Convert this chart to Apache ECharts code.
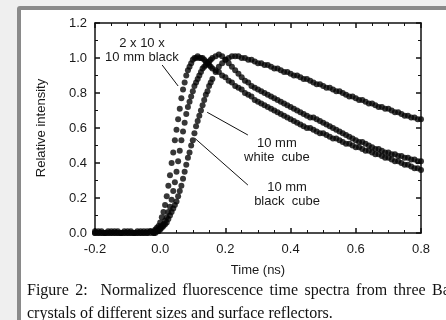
<!DOCTYPE html>
<html>

<head>
    <meta charset="utf-8">
    <script type="text/javascript" src="https://cdn.jsdelivr.net/npm/echarts@6.0.0/dist/echarts.min.js"></script>
    <title>Fluorescence time spectra</title>
    <style>
        body { margin: 0; width: 446px; height: 320px; overflow: hidden; background: #efefef; position: relative; }
        #frame { position: absolute; left: 17px; top: 6px; width: 480px; height: 360px; background: #fff;
                 border: 4px solid #8a8a8a; border-radius: 3px; }
        #container { position: absolute; left: 0; top: 0; width: 446px; height: 320px; }
        #caption { position: absolute; left: 27px; top: 281px; width: 480px; font-family: "Liberation Serif", serif;
                   font-size: 16px; line-height: 17px; color: #111; white-space: nowrap; }
    </style>
</head>

<body>
    <div id="frame"></div>
    <div id="container"></div>
    <div id="caption">
        <div style="word-spacing:2.4px">Figure 2:&nbsp; Normalized fluorescence time spectra from three BaF<sub style="font-size:11px">2</sub></div>
        <div>crystals of different sizes and surface reflectors.</div>
    </div>
    <script type="text/javascript">
    // time axis (ns), shared by the three curves
    var times = [
        -0.20, -0.19, -0.18, -0.17, -0.16, -0.15, -0.14, -0.13, -0.12, -0.11, -0.10, -0.09, -0.08, -0.07, -0.06, -0.05, -0.04, -0.03,
        -0.02, -0.015, -0.01, -0.005, 0.0, 0.005, 0.01, 0.015, 0.02, 0.025, 0.03, 0.035, 0.04, 0.045, 0.05, 0.055, 0.06, 0.065,
        0.07, 0.075, 0.08, 0.085, 0.09, 0.095, 0.10, 0.105, 0.11, 0.115, 0.12, 0.125, 0.13, 0.135, 0.14, 0.145, 0.15, 0.155, 0.16,
        0.17, 0.18, 0.19, 0.20, 0.21, 0.22, 0.23, 0.24, 0.25, 0.26, 0.27, 0.28, 0.29, 0.30, 0.31, 0.32, 0.33, 0.34, 0.35, 0.36,
        0.37, 0.38, 0.39, 0.40, 0.41, 0.42, 0.43, 0.44, 0.45, 0.46, 0.47, 0.48, 0.49, 0.50, 0.51, 0.52, 0.53, 0.54, 0.55, 0.56,
        0.57, 0.58, 0.59, 0.60, 0.61, 0.62, 0.63, 0.64, 0.65, 0.66, 0.67, 0.68, 0.69, 0.70, 0.71, 0.72, 0.73, 0.74, 0.75, 0.76,
        0.77, 0.78, 0.79, 0.80
    ];

    // 2 x 10 x 10 mm black
    var smallBlack = [
        0.00, 0.01, 0.00, 0.00, 0.01, 0.00, 0.00, 0.01, 0.00, 0.00, 0.00, 0.01, 0.00, 0.00, 0.01, 0.00, 0.01, 0.01,
        0.01, 0.02, 0.03, 0.04, 0.06, 0.09, 0.12, 0.16, 0.21, 0.27, 0.33, 0.40, 0.46, 0.53, 0.59, 0.65, 0.71, 0.77,
        0.82, 0.86, 0.90, 0.93, 0.95, 0.97, 0.99, 1.00, 1.00, 1.01, 1.00, 1.00, 1.00, 0.99, 0.98, 0.97, 0.96, 0.95, 0.94,
        0.93, 0.92, 0.90, 0.89, 0.87, 0.86, 0.84, 0.83, 0.82, 0.80, 0.79, 0.78, 0.76, 0.75, 0.74, 0.73, 0.72, 0.71, 0.70, 0.69,
        0.68, 0.67, 0.66, 0.65, 0.64, 0.63, 0.62, 0.61, 0.60, 0.60, 0.59, 0.58, 0.57, 0.57, 0.56, 0.55, 0.54, 0.54, 0.53, 0.52,
        0.51, 0.51, 0.50, 0.49, 0.49, 0.48, 0.47, 0.47, 0.46, 0.45, 0.45, 0.44, 0.43, 0.43, 0.42, 0.41, 0.41, 0.40, 0.39, 0.39,
        0.38, 0.37, 0.37, 0.36
    ];

    // 10 mm black cube
    var blackCube = [
        0.00, 0.00, 0.01, 0.00, 0.00, 0.00, 0.01, 0.00, 0.00, 0.01, 0.00, 0.00, 0.00, 0.01, 0.00, 0.00, 0.00, 0.01,
        0.00, 0.01, 0.01, 0.02, 0.03, 0.04, 0.05, 0.07, 0.09, 0.12, 0.15, 0.19, 0.24, 0.29, 0.35, 0.41, 0.47, 0.53,
        0.58, 0.63, 0.68, 0.72, 0.75, 0.78, 0.81, 0.84, 0.86, 0.88, 0.90, 0.92, 0.94, 0.95, 0.96, 0.97, 0.98, 0.99, 1.00,
        1.01, 1.02, 1.01, 0.99, 0.97, 0.95, 0.93, 0.91, 0.89, 0.87, 0.86, 0.84, 0.83, 0.82, 0.81, 0.80, 0.79, 0.78, 0.77, 0.76,
        0.75, 0.74, 0.73, 0.72, 0.71, 0.70, 0.69, 0.68, 0.67, 0.66, 0.66, 0.65, 0.64, 0.63, 0.62, 0.61, 0.60, 0.59, 0.58, 0.57,
        0.56, 0.55, 0.54, 0.53, 0.52, 0.52, 0.51, 0.50, 0.49, 0.48, 0.48, 0.47, 0.46, 0.46, 0.45, 0.45, 0.44, 0.44, 0.43, 0.43,
        0.42, 0.42, 0.41, 0.41
    ];

    // 10 mm white cube
    var whiteCube = [
        0.01, 0.00, 0.00, 0.00, 0.00, 0.01, 0.00, 0.00, 0.00, 0.00, 0.01, 0.00, 0.00, 0.00, 0.00, 0.01, 0.00, 0.00,
        0.00, 0.00, 0.01, 0.01, 0.02, 0.03, 0.04, 0.05, 0.06, 0.08, 0.10, 0.12, 0.14, 0.16, 0.18, 0.21, 0.24, 0.27,
        0.31, 0.35, 0.39, 0.43, 0.46, 0.50, 0.53, 0.57, 0.61, 0.64, 0.67, 0.70, 0.73, 0.76, 0.79, 0.81, 0.84, 0.86, 0.88,
        0.92, 0.95, 0.97, 0.99, 1.00, 1.01, 1.01, 1.01, 1.00, 1.00, 0.99, 0.99, 0.98, 0.97, 0.97, 0.96, 0.96, 0.95, 0.94, 0.94,
        0.93, 0.92, 0.92, 0.91, 0.90, 0.90, 0.89, 0.88, 0.88, 0.87, 0.86, 0.85, 0.85, 0.84, 0.83, 0.83, 0.82, 0.81, 0.81, 0.80,
        0.79, 0.78, 0.78, 0.77, 0.76, 0.76, 0.75, 0.74, 0.74, 0.73, 0.72, 0.72, 0.71, 0.71, 0.70, 0.69, 0.69, 0.68, 0.67, 0.67,
        0.66, 0.66, 0.65, 0.65
    ];

    // annotation arrows [from, to] in data units, and label anchors
    var arrowSmall = [[0.006, 0.96], [0.055, 0.84]];
    var arrowWhite = [[0.269, 0.56], [0.144, 0.69]];
    var arrowBlack = [[0.269, 0.274], [0.107, 0.54]];
    var labels = [
        { at: [-0.056, 1.046], text: '2 x 10 x\n10 mm black' },
        { at: [0.358, 0.472], text: '10 mm\nwhite  cube' },
        { at: [0.389, 0.220], text: '10 mm\nblack  cube' }
    ];

    function pairs(vals) {
        return times.map(function (t, i) { return [t, vals[i]]; });
    }

    function arrow(a) {
        return [{ coord: a[0] }, { coord: a[1] }];
    }

    var myChart = echarts.init(document.getElementById('container'));

    var axisText = { fontFamily: 'Liberation Sans', fontSize: 13, color: '#1a1a1a' };
    var lineStyle = { color: '#111', width: 1.5 };

    // one axis setup, reused for the four sides of the box
    function frameAxis(extra) {
        return Object.assign({
            type: 'value',
            axisLine: { show: true, onZero: false, lineStyle: lineStyle },
            axisTick: { inside: true, length: 5, lineStyle: lineStyle },
            splitLine: { show: false }
        }, extra);
    }

    var dotStyle = {
        type: 'scatter',
        symbol: 'circle',
        symbolSize: 6,
        itemStyle: { color: '#050505' },
        silent: true
    };

    var xMinor = { show: true, splitNumber: 4, length: 3, lineStyle: { color: '#111', width: 1 } };
    var yMinor = { show: true, splitNumber: 2, length: 3, lineStyle: { color: '#111', width: 1 } };
    var fmt = function (v) { return v.toFixed(1); };

    var option = {
        animation: false,
        backgroundColor: 'transparent',
        grid: { left: 95, right: 25, top: 23, bottom: 87 },
        xAxis: [
            frameAxis({
                min: -0.2, max: 0.8, interval: 0.2, position: 'bottom',
                name: 'Time (ns)', nameLocation: 'middle', nameGap: 31, nameTextStyle: axisText,
                minorTick: xMinor,
                axisLabel: Object.assign({ margin: 10, formatter: fmt }, axisText)
            }),
            frameAxis({
                min: -0.2, max: 0.8, interval: 0.2, position: 'top',
                minorTick: xMinor, axisLabel: { show: false }
            })
        ],
        yAxis: [
            frameAxis({
                min: 0, max: 1.2, interval: 0.2, position: 'left',
                name: 'Relative intensity', nameLocation: 'middle', nameGap: 47, nameTextStyle: axisText,
                minorTick: yMinor,
                axisLabel: Object.assign({ margin: 8, formatter: fmt }, axisText)
            }),
            frameAxis({
                min: 0, max: 1.2, interval: 0.2, position: 'right',
                minorTick: yMinor, axisLabel: { show: false }
            })
        ],
        series: [
            Object.assign({
                name: '2 x 10 x 10 mm black', data: pairs(smallBlack),
                markLine: {
                    silent: true, symbol: ['none', 'arrow'], symbolSize: [0, 7],
                    label: { show: false },
                    lineStyle: { color: '#111', width: 1, type: 'solid' },
                    data: [arrow(arrowSmall), arrow(arrowWhite), arrow(arrowBlack)]
                }
            }, dotStyle),
            Object.assign({ name: '10 mm black cube', data: pairs(blackCube) }, dotStyle),
            Object.assign({ name: '10 mm white cube', data: pairs(whiteCube) }, dotStyle)
        ]
    };

    myChart.setOption(option);

    // annotation texts placed through the axes
    var graphics = labels.map(function (l) {
        var p = myChart.convertToPixel({ xAxisIndex: 0, yAxisIndex: 0 }, l.at);
        return {
            type: 'text', x: p[0], y: p[1], silent: true,
            style: {
                text: l.text, fill: '#1a1a1a', font: '13px "Liberation Sans"',
                align: 'center', verticalAlign: 'middle', lineHeight: 14
            }
        };
    });
    myChart.setOption({ graphic: graphics });
    </script>
</body>

</html>
